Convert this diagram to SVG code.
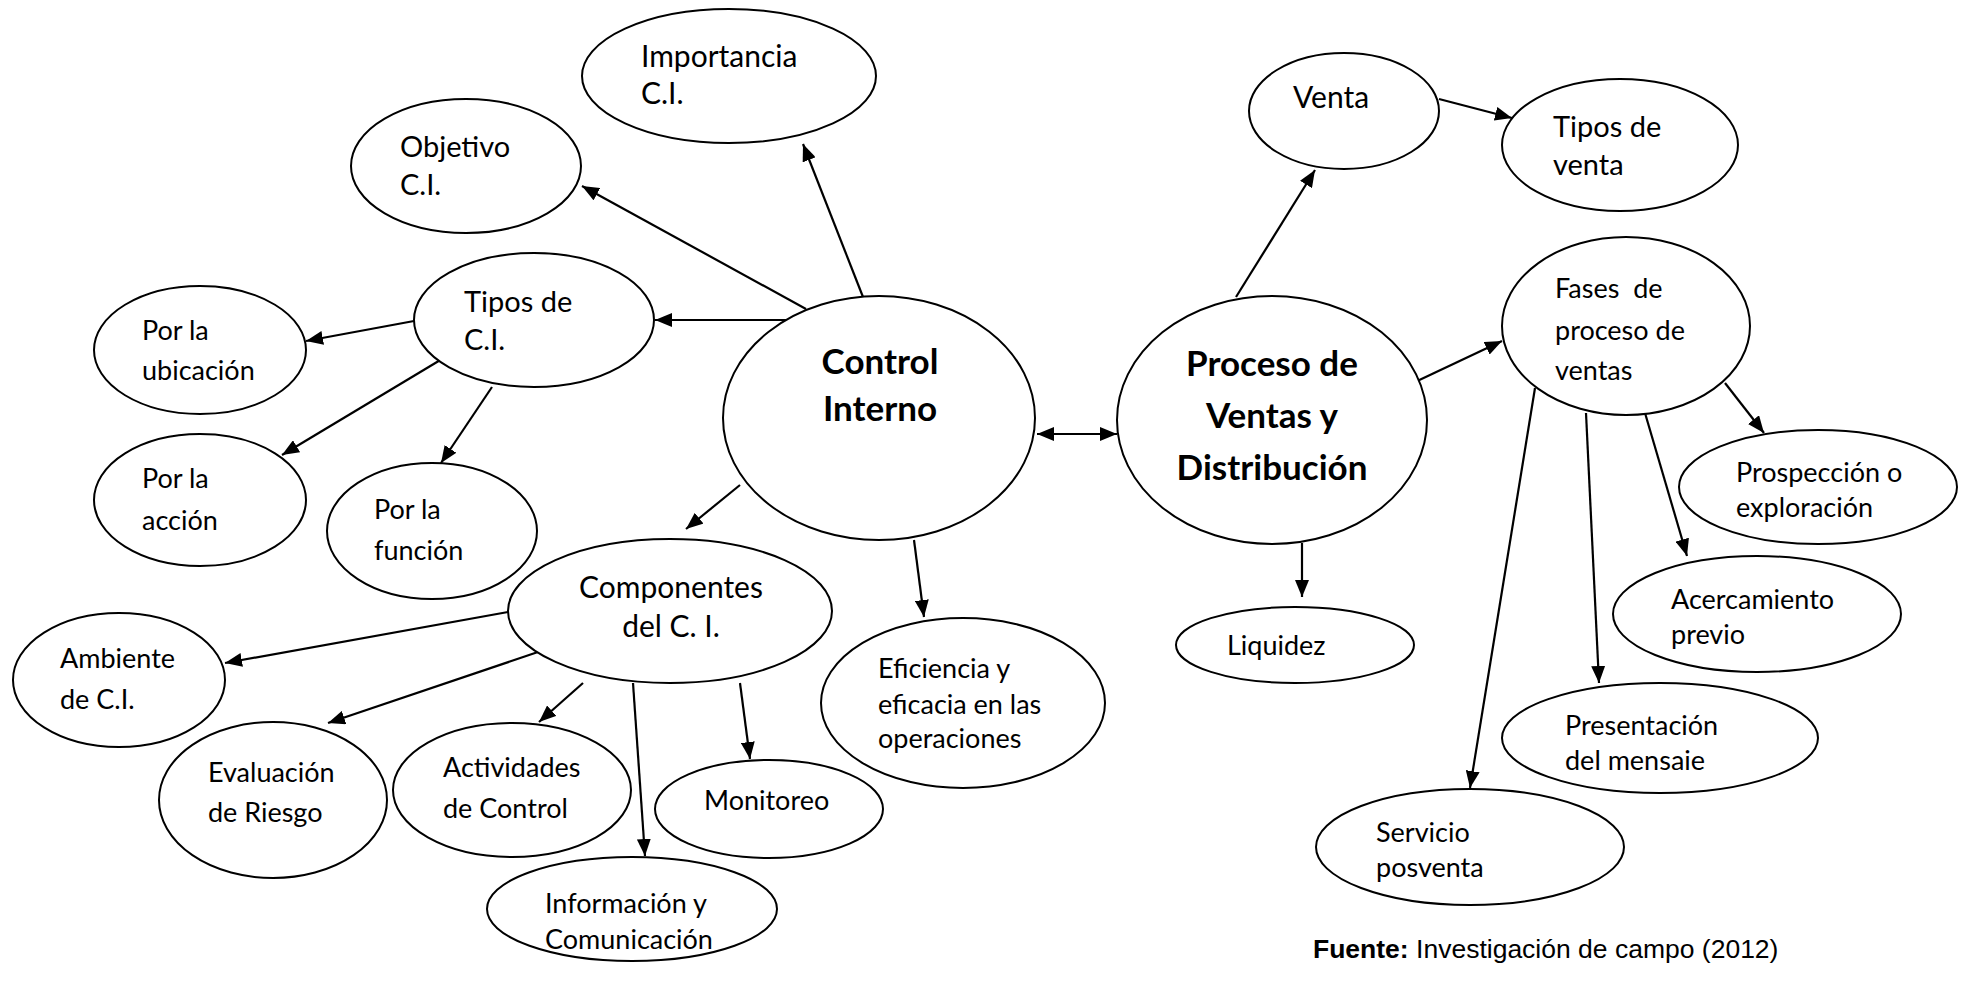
<svg xmlns="http://www.w3.org/2000/svg" width="1969" height="998" viewBox="0 0 1969 998">
<style>
  .node ellipse { fill: #fff; stroke: #000; stroke-width: 2; }
  .t { font-family: Lato, "Open Sans", sans-serif; font-size: 27px; fill: #000; white-space: pre; }
  .c { text-anchor: middle; }
  .b { font-weight: bold; font-size: 35px; }
  .l { font-size: 30px; }
  .m { font-size: 29px; }
  .conn line { stroke: #000; stroke-width: 2.2; fill: none; marker-end: url(#ah); }
  .src { font-family: "Liberation Sans", Arial, sans-serif; font-size: 26.5px; fill: #000; }
</style>
<defs>
  <marker id="ah" markerUnits="userSpaceOnUse" markerWidth="18" markerHeight="14" refX="17" refY="7" orient="auto">
    <path d="M0,0 L17,7 L0,14 z" fill="#000"/>
  </marker>
  <marker id="ahs" markerUnits="userSpaceOnUse" markerWidth="18" markerHeight="14" refX="17" refY="7" orient="auto-start-reverse">
    <path d="M0,0 L17,7 L0,14 z" fill="#000"/>
  </marker>
</defs>
<rect width="1969" height="998" fill="#fff"/>

<g id="connectors" class="conn">
  <line x1="863" y1="297" x2="803" y2="144"/>
  <line x1="806" y1="309" x2="582" y2="186"/>
  <line x1="788" y1="320" x2="655" y2="320"/>
  <line x1="414" y1="321" x2="306" y2="341"/>
  <line x1="442" y1="359" x2="282" y2="455"/>
  <line x1="492" y1="387" x2="441" y2="463"/>
  <line x1="740" y1="485" x2="686" y2="529"/>
  <line x1="914" y1="540" x2="924" y2="617"/>
  <line x1="508" y1="612" x2="225" y2="663"/>
  <line x1="538" y1="652" x2="328" y2="723"/>
  <line x1="583" y1="683" x2="539" y2="722"/>
  <line x1="633" y1="683" x2="645" y2="856"/>
  <line x1="740" y1="683" x2="750" y2="759"/>
  <line x1="1037" y1="434" x2="1117" y2="434" marker-start="url(#ahs)"/>
  <line x1="1236" y1="297" x2="1315" y2="170"/>
  <line x1="1439" y1="99" x2="1512" y2="118"/>
  <line x1="1413" y1="383" x2="1502" y2="341"/>
  <line x1="1302" y1="543" x2="1302" y2="597"/>
  <line x1="1725" y1="383" x2="1764" y2="433"/>
  <line x1="1645" y1="413" x2="1687" y2="556"/>
  <line x1="1586" y1="413" x2="1599" y2="683"/>
  <line x1="1535" y1="388" x2="1470" y2="788"/>
</g>

<g id="importancia" class="node"><ellipse cx="729" cy="76" rx="147" ry="67"/>
  <text class="t l" x="641" y="67">Importancia</text><text class="t l" x="641" y="104">C.I.</text></g>
<g id="objetivo" class="node"><ellipse cx="466" cy="166" rx="115" ry="67"/>
  <text class="t m" x="400" y="157">Objetivo</text><text class="t m" x="400" y="195">C.I.</text></g>
<g id="tipos-ci" class="node"><ellipse cx="534" cy="320" rx="120" ry="67"/>
  <text class="t m" x="464" y="312">Tipos de</text><text class="t m" x="464" y="350">C.I.</text></g>
<g id="por-ubicacion" class="node"><ellipse cx="200" cy="350" rx="106" ry="64"/>
  <text class="t" x="142" y="340">Por la</text><text class="t" x="142" y="380">ubicación</text></g>
<g id="por-accion" class="node"><ellipse cx="200" cy="500" rx="106" ry="66"/>
  <text class="t" x="142" y="488">Por la</text><text class="t" x="142" y="530">acción</text></g>
<g id="por-funcion" class="node"><ellipse cx="432" cy="531" rx="105" ry="68"/>
  <text class="t" x="374" y="519">Por la</text><text class="t" x="374" y="560">función</text></g>
<g id="control-interno" class="node"><ellipse cx="879" cy="418" rx="156" ry="122"/>
  <text class="t b c" x="880" y="374">Control</text><text class="t b c" x="880" y="421">Interno</text></g>
<g id="componentes" class="node"><ellipse cx="670" cy="611" rx="162" ry="72"/>
  <text class="t l c" x="671" y="598">Componentes</text><text class="t l c" x="671" y="637">del C. I.</text></g>
<g id="ambiente" class="node"><ellipse cx="119" cy="680" rx="106" ry="67"/>
  <text class="t" x="60" y="668">Ambiente</text><text class="t" x="60" y="709">de C.I.</text></g>
<g id="evaluacion" class="node"><ellipse cx="273" cy="800" rx="114" ry="78"/>
  <text class="t" x="208" y="782">Evaluación</text><text class="t" x="208" y="822">de Riesgo</text></g>
<g id="actividades" class="node"><ellipse cx="512" cy="790" rx="119" ry="67"/>
  <text class="t" x="443" y="777">Actividades</text><text class="t" x="443" y="818">de Control</text></g>
<g id="monitoreo" class="node"><ellipse cx="769" cy="809" rx="114" ry="49"/>
  <text class="t" x="704" y="810">Monitoreo</text></g>
<g id="informacion" class="node"><ellipse cx="632" cy="909" rx="145" ry="52"/>
  <text class="t" x="545" y="913">Información y</text><text class="t" x="545" y="949">Comunicación</text></g>
<g id="eficiencia" class="node"><ellipse cx="963" cy="703" rx="142" ry="85"/>
  <text class="t" x="878" y="678">Eficiencia y</text><text class="t" x="878" y="714">eficacia en las</text><text class="t" x="878" y="748">operaciones</text></g>
<g id="proceso" class="node"><ellipse cx="1272" cy="420" rx="155" ry="124"/>
  <text class="t b c" x="1272" y="376">Proceso de</text><text class="t b c" x="1272" y="428">Ventas y</text><text class="t b c" x="1272" y="480">Distribución</text></g>
<g id="venta" class="node"><ellipse cx="1344" cy="111" rx="95" ry="58"/>
  <text class="t l" x="1293" y="108">Venta</text></g>
<g id="tipos-venta" class="node"><ellipse cx="1620" cy="145" rx="118" ry="66"/>
  <text class="t m" x="1553" y="137">Tipos de</text><text class="t m" x="1553" y="175">venta</text></g>
<g id="fases" class="node"><ellipse cx="1626" cy="326" rx="124" ry="89"/>
  <text class="t" x="1555" y="298">Fases  de</text><text class="t" x="1555" y="340">proceso de</text><text class="t" x="1555" y="380">ventas</text></g>
<g id="liquidez" class="node"><ellipse cx="1295" cy="645" rx="119" ry="38"/>
  <text class="t" x="1227" y="655">Liquidez</text></g>
<g id="prospeccion" class="node"><ellipse cx="1818" cy="487" rx="139" ry="57"/>
  <text class="t" x="1736" y="482">Prospección o</text><text class="t" x="1736" y="517">exploración</text></g>
<g id="acercamiento" class="node"><ellipse cx="1757" cy="614" rx="144" ry="58"/>
  <text class="t" x="1671" y="609">Acercamiento</text><text class="t" x="1671" y="644">previo</text></g>
<g id="presentacion" class="node"><ellipse cx="1660" cy="738" rx="158" ry="55"/>
  <text class="t" x="1565" y="735">Presentación</text><text class="t" x="1565" y="770">del mensaie</text></g>
<g id="servicio" class="node"><ellipse cx="1470" cy="847" rx="154" ry="58"/>
  <text class="t" x="1376" y="842">Servicio</text><text class="t" x="1376" y="877">posventa</text></g>

<text class="src" x="1313" y="958"><tspan font-weight="bold">Fuente:</tspan> Investigación de campo (2012)</text>
</svg>
